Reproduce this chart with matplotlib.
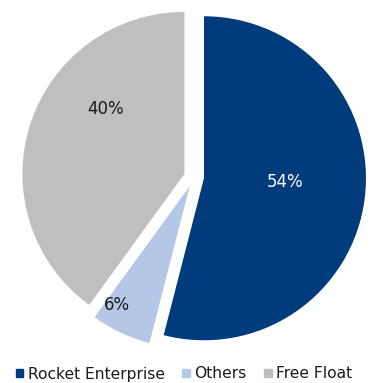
import numpy as np
import matplotlib
matplotlib.use('Agg')
import matplotlib.pyplot as plt
from matplotlib.patches import Patch

labels = ['Rocket Enterprise', 'Others', 'Free Float']
shares = [54, 6, 40]
colours = ['#003b7b', '#b4c7e7', '#bfbfbf']
text_colours = ['white', '#1a1a1a', '#1a1a1a']

# where each % label sits, relative to its own (exploded) wedge centre
label_r = [0.5, 0.86, 0.63]
label_ang = [-2.5, -121.6, 140.3]

plt.rcParams['font.family'] = ['DejaVu Sans']

fig = plt.figure(figsize=[3.72, 3.83], dpi=100)
W, H = 372, 383
L = 1.08
size = 2 * L * 162
cx, cy = 194, H - 177
ax = fig.add_axes([(cx - size / 2) / W, (cy - size / 2) / H, size / W, size / H])

wedges, texts, autotexts = ax.pie(shares, colors=colours, startangle=90,
                                  counterclock=False, explode=[0.062] * 3,
                                  autopct='%d%%', pctdistance=0.55,
                                  wedgeprops=dict(linewidth=0),
                                  textprops=dict(fontsize=12))
for w, t, c, r, a in zip(wedges, autotexts, text_colours, label_r, label_ang):
    t.set_color(c)
    x0, y0 = w.center
    t.set_position((x0 + r * np.cos(np.radians(a)), y0 + r * np.sin(np.radians(a))))
ax.set_xlim(-L, L)
ax.set_ylim(-L, L)
ax.set_aspect('equal')

handles = [Patch(color=c, label=l) for c, l in zip(colours, labels)]
fig.legend(handles=handles, loc='center', bbox_to_anchor=(184 / W, 1 - 374 / H),
           ncol=3, frameon=False, fontsize=11.2, handlelength=0.5,
           handleheight=0.5, handletextpad=0.3, columnspacing=1.1,
           borderpad=0, labelcolor='#1a1a1a')

fig.savefig('out.png', dpi=100)
